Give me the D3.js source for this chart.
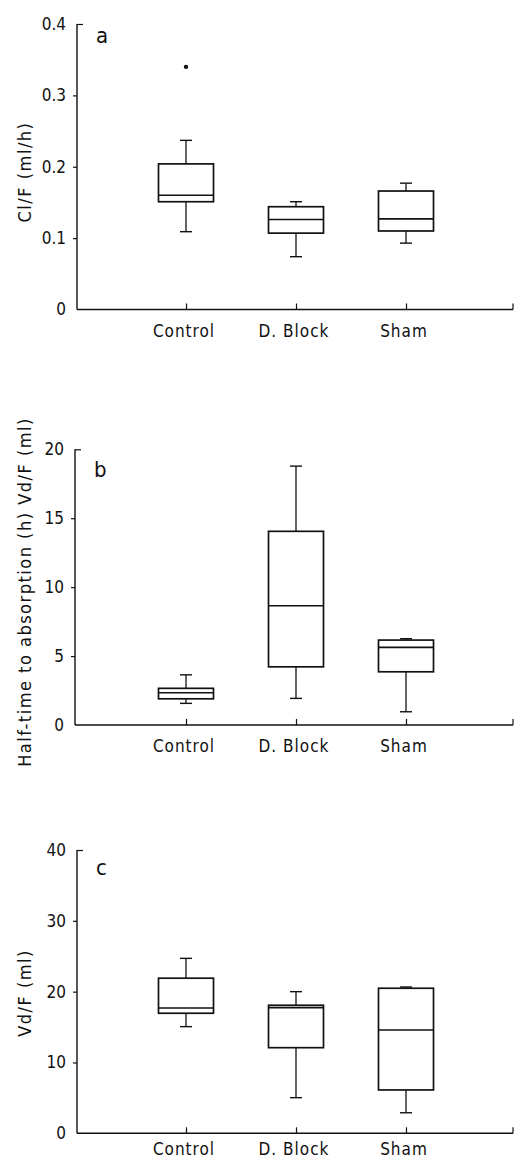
<!DOCTYPE html>
<html><head><meta charset="utf-8">
<script src="https://cdn.jsdelivr.net/npm/d3@7"></script>
<style>
html,body{margin:0;padding:0;background:#fff;}
svg text{font-family:"DejaVu Sans Condensed","Liberation Sans Narrow","DejaVu Sans",sans-serif;font-stretch:condensed;fill:#111;}
</style></head>
<body><svg id="c" width="518" height="1161"></svg>
<script>
const categories = ["Control", "D. Block", "Sham"];

// Panel a: Cl/F (ml/h)
const aTicks = [0, 0.1, 0.2, 0.3, 0.4];
const aTickLabels = ["0", "0.1", "0.2", "0.3", "0.4"];
const aLow = [0.109, 0.074, 0.093];
const aQ1 = [0.151, 0.107, 0.110];
const aMedian = [0.160, 0.126, 0.127];
const aQ3 = [0.204, 0.144, 0.166];
const aHigh = [0.237, 0.151, 0.177];
const aOutlierCats = ["Control"];
const aOutlierVals = [0.340];

// Panel b: Half-time to absorption (h)
const bTicks = [0, 5, 10, 15, 20];
const bTickLabels = ["0", "5", "10", "15", "20"];
const bLow = [1.57, 1.93, 0.96];
const bQ1 = [1.90, 4.22, 3.86];
const bMedian = [2.34, 8.65, 5.63];
const bQ3 = [2.66, 14.05, 6.16];
const bHigh = [3.64, 18.78, 6.26];

// Panel c: Vd/F (ml)
const cTicks = [0, 10, 20, 30, 40];
const cTickLabels = ["0", "10", "20", "30", "40"];
const cLow = [15.06, 5.03, 2.9];
const cQ1 = [16.95, 12.09, 6.12];
const cMedian = [17.7, 17.74, 14.59];
const cQ3 = [21.9, 18.08, 20.48];
const cHigh = [24.7, 20.0, 20.66];

const svg = d3.select("#c");

const panels = [
  {letter:"a", ylabel:"Cl/F (ml/h)", x0:77, top:24, bottom:309.5, ticks:aTicks, labels:aTickLabels,
   low:aLow, q1:aQ1, med:aMedian, q3:aQ3, high:aHigh, oc:aOutlierCats, ov:aOutlierVals, letterDy:19, labelCy:172, xlabDy:27},
  {letter:"b", ylabel:"Half-time to absorption (h) Vd/F (ml)", x0:75, top:449.3, bottom:725, ticks:bTicks, labels:bTickLabels,
   low:bLow, q1:bQ1, med:bMedian, q3:bQ3, high:bHigh, oc:[], ov:[], letterDy:28, labelCy:592, xlabDy:27},
  {letter:"c", ylabel:"Vd/F (ml)", x0:77, top:850, bottom:1133.3, ticks:cTicks, labels:cTickLabels,
   low:cLow, q1:cQ1, med:cMedian, q3:cQ3, high:cHigh, oc:[], ov:[], letterDy:25, labelCy:993, xlabDy:22}
];

panels.forEach(p => {
  const g = svg.append("g");
  const y = d3.scaleLinear().domain([p.ticks[0], p.ticks[p.ticks.length-1]]).range([p.bottom, p.top]);
  const x = d3.scalePoint().domain(categories).range([186, 406]);
  const step = x.step();
  const xLeft = p.x0, xRight = x(categories[categories.length-1]) + step - 3;

  // y axis
  const yAxis = d3.axisLeft(y).tickValues(p.ticks).tickFormat((d,i)=>p.labels[i]).tickSize(4).tickPadding(7);
  const ya = g.append("g").attr("transform", `translate(${p.x0},0)`).call(yAxis);
  ya.select(".domain").remove();
  ya.selectAll(".tick line").attr("stroke","#111").attr("stroke-width",1.2);
  ya.selectAll(".tick text").attr("font-size",17).attr("fill","#111");
  ya.selectAll(".tick").filter(d => d === p.ticks[p.ticks.length-1]).select("line").attr("x2", 6);
  ya.selectAll(".tick").filter(d => d === 0).select("line").remove();
  g.append("line").attr("x1",p.x0).attr("x2",p.x0).attr("y1",y(p.ticks[p.ticks.length-1])).attr("y2",y(0))
    .attr("stroke","#111").attr("stroke-width",1.4);

  // x axis
  g.append("line").attr("x1",xLeft).attr("x2",xRight).attr("y1",y(0)).attr("y2",y(0))
    .attr("stroke","#111").attr("stroke-width",1.4);
  g.append("line").attr("x1",xRight).attr("x2",xRight).attr("y1",y(0)).attr("y2",y(0)-6)
    .attr("stroke","#111").attr("stroke-width",1.2);
  const xAxis = d3.axisTop(x).tickSize(6).tickFormat("");
  const xa = g.append("g").attr("transform", `translate(0,${y(0)})`).call(xAxis);
  xa.select(".domain").remove();
  xa.selectAll(".tick line").attr("stroke","#111").attr("stroke-width",1.2);
  g.selectAll(".xlab").data(categories).enter().append("text")
    .attr("x", d => x(d) - 2).attr("y", y(0) + p.xlabDy)
    .attr("text-anchor","middle").attr("font-size",17).attr("letter-spacing",1).text(d => d);

  // boxes
  const bw = 55, cap = 12;
  categories.forEach((c,i) => {
    const cx = x(c);
    g.append("line").attr("x1",cx).attr("x2",cx).attr("y1",y(p.q3[i])).attr("y2",y(p.high[i]))
      .attr("stroke","#111").attr("stroke-width",1.3);
    g.append("line").attr("x1",cx).attr("x2",cx).attr("y1",y(p.q1[i])).attr("y2",y(p.low[i]))
      .attr("stroke","#111").attr("stroke-width",1.3);
    g.append("line").attr("x1",cx-cap/2).attr("x2",cx+cap/2).attr("y1",y(p.high[i])).attr("y2",y(p.high[i]))
      .attr("stroke","#111").attr("stroke-width",1.4);
    g.append("line").attr("x1",cx-cap/2).attr("x2",cx+cap/2).attr("y1",y(p.low[i])).attr("y2",y(p.low[i]))
      .attr("stroke","#111").attr("stroke-width",1.4);
    g.append("rect").attr("x",cx-bw/2).attr("width",bw).attr("y",y(p.q3[i])).attr("height",y(p.q1[i])-y(p.q3[i]))
      .attr("fill","#fff").attr("stroke","#111").attr("stroke-width",1.7);
    g.append("line").attr("x1",cx-bw/2).attr("x2",cx+bw/2).attr("y1",y(p.med[i])).attr("y2",y(p.med[i]))
      .attr("stroke","#111").attr("stroke-width",1.6);
  });
  p.oc.forEach((c,i) => {
    g.append("circle").attr("cx",x(c)).attr("cy",y(p.ov[i])).attr("r",2.2).attr("fill","#111");
  });

  // panel letter
  g.append("text").attr("x",p.x0+19).attr("y",p.top+p.letterDy).attr("font-size",22).text(p.letter);

  // y label
  g.append("text").attr("transform",`translate(31,${p.labelCy}) rotate(-90)`)
    .attr("text-anchor","middle").attr("font-size",18).attr("letter-spacing",1.5).text(p.ylabel);
});
</script></body></html>
